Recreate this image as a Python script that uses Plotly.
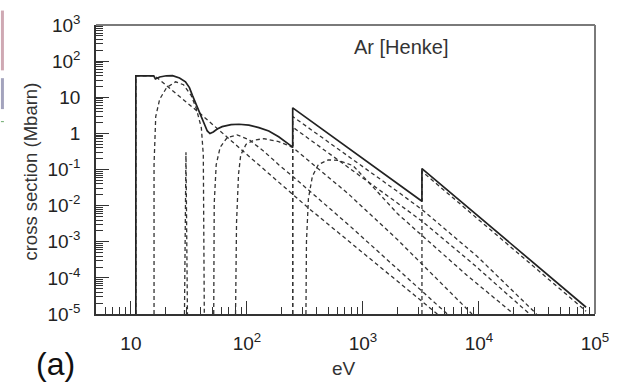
import plotly.graph_objects as go

# ---------------- data (energy in eV, cross section in Mbarn) ----------------
total_E = [11.03, 11.03, 15.73, 16.26, 17.70, 20.19, 22.86, 26.23, 29.52, 31.93,
           33.88, 36.43, 39.66, 42.91, 45.51, 48.0, 51.22, 55.41, 61.13, 72.98,
           85.43, 104.0, 126.7, 154.2, 187.7, 248.0, 248.0, 3224, 3224, 83780]
total_sigma = [1e-5, 39.3, 39.3, 32.1, 36.3, 39.3, 39.8, 34.1, 26.7, 18.5,
               11.3, 6.63, 3.52, 1.79, 1.166, 0.988, 1.096, 1.318, 1.537, 1.738,
               1.79, 1.686, 1.445, 1.166, 0.807, 0.418, 5.09, 0.0132, 0.1063, 1.54e-5]

shell1_E = [11.03, 11.03, 16.03, 17.70, 26.23, 40.45, 90.65, 338.8, 4375]
shell1_sigma = [1e-5, 39.3, 39.3, 30.2, 10.63, 3.31, 0.3415, 0.00858, 1e-5]

shell2_E = [15.82, 15.82, 16.36, 17.70, 20.31, 24.25, 28.38, 33.02, 36.65, 40.45, 42.06, 42.91]
shell2_sigma = [1e-5, 0.136, 2.93, 8.84, 18.5, 26.7, 22.2, 11.3, 4.79, 1.43, 0.251, 1e-5]

shell3_E = [28.94, 29.81, 30.70]
shell3_sigma = [1e-5, 0.302, 1e-5]

shell4_E = [51.72, 52.24, 54.33, 58.76, 67.47, 82.14, 104.0, 139.8, 187.7, 247.4, 744.5, 1991, 5327]
shell4_sigma = [1e-5, 0.01166, 0.136, 0.4106, 0.7586, 0.912, 0.671, 0.321, 0.136, 0.0651, 0.00302, 1.79e-4, 1e-5]

shell5_E = [79.75, 81.35, 84.60, 88.37, 98.06, 114.8, 139.8, 187.7, 247.4, 744.5, 1991, 8713]
shell5_sigma = [1e-5, 0.00341, 0.0736, 0.251, 0.494, 0.651, 0.713, 0.593, 0.4106, 0.0215, 0.00113, 1e-5]

shell6_E = [248.0, 248.0, 1991, 3256, 9614, 31310]
shell6_sigma = [1e-5, 2.93, 0.0244, 0.00759, 3.98e-4, 1e-5]

shell7_E = [248.0, 248.0, 1991, 3256, 8713, 27290]
shell7_sigma = [1e-5, 1.49, 0.01166, 0.00363, 2.59e-4, 1e-5]

shell8_E = [322.5, 325.8, 338.8, 366.5, 412.5, 502.3, 611.3, 821.4, 1217, 1991, 3256, 7898, 19910]
shell8_sigma = [1e-5, 0.001, 0.0158, 0.0651, 0.136, 0.185, 0.179, 0.128, 0.0331, 0.00593, 0.00145, 1.17e-4, 1e-5]

shell9_E = [3224, 3224, 83780]
shell9_sigma = [1e-5, 0.0885, 1.2e-5]

x_tickvals = [10, 100, 1000, 10000, 100000]
x_ticktext = ["10", "10<sup>2</sup>", "10<sup>3</sup>", "10<sup>4</sup>", "10<sup>5</sup>"]
y_tickvals = [1e3, 1e2, 10, 1, 1e-1, 1e-2, 1e-3, 1e-4, 1e-5]
y_ticktext = ["10<sup>3</sup>", "10<sup>2</sup>", "10", "1", "10<sup>-1</sup>", "10<sup>-2</sup>",
              "10<sup>-3</sup>", "10<sup>-4</sup>", "10<sup>-5</sup>"]

# ---------------- figure ----------------
FONT = "Liberation Sans, Arial, Helvetica, sans-serif"
fig = go.Figure()

dashed = [(shell1_E, shell1_sigma), (shell2_E, shell2_sigma), (shell3_E, shell3_sigma),
          (shell4_E, shell4_sigma), (shell5_E, shell5_sigma), (shell6_E, shell6_sigma),
          (shell7_E, shell7_sigma), (shell8_E, shell8_sigma), (shell9_E, shell9_sigma)]
for ex, sy in dashed:
    fig.add_trace(go.Scatter(x=ex, y=sy, mode="lines",
                             line=dict(color="#333333", width=1.3, dash="4px,3px"),
                             hoverinfo="skip", showlegend=False))

fig.add_trace(go.Scatter(x=total_E, y=total_sigma, mode="lines",
                         line=dict(color="#222222", width=1.7),
                         hoverinfo="skip", showlegend=False))

minor_x = [m * 10 ** p for p in range(0, 5) for m in range(2, 10)]
minor_y = [m * 10.0 ** p for p in range(-5, 3) for m in range(2, 10)]

fig.update_xaxes(type="log", range=[0.69897, 5.0], tickmode="array",
                 tickvals=x_tickvals, ticktext=x_ticktext,
                 ticks="inside", ticklen=13, tickwidth=1.2, tickcolor="#333",
                 showline=True, linecolor="#333", linewidth=1.5, mirror=False,
                 showgrid=False, zeroline=False, ticklabelstandoff=11,
                 tickfont=dict(family=FONT, size=19, color="#222"),
                 minor=dict(tickvals=minor_x, ticks="inside", ticklen=7,
                            tickwidth=1, tickcolor="#333", showgrid=False))
fig.update_yaxes(type="log", range=[-5, 3], tickmode="array",
                 tickvals=y_tickvals, ticktext=y_ticktext,
                 ticks="inside", ticklen=13, tickwidth=1.2, tickcolor="#333",
                 showline=True, linecolor="#333", linewidth=1.5, mirror=False,
                 showgrid=False, zeroline=False, ticklabelstandoff=10,
                 tickfont=dict(family=FONT, size=19, color="#222"),
                 minor=dict(tickvals=minor_y, ticks="inside", ticklen=7,
                            tickwidth=1, tickcolor="#333", showgrid=False))

# top and right frame lines (gray)
fig.add_shape(type="line", xref="paper", yref="paper", x0=0, x1=1, y0=1, y1=1,
              line=dict(color="#7a7a7a", width=2))
fig.add_shape(type="line", xref="paper", yref="paper", x0=1, x1=1, y0=0, y1=1,
              line=dict(color="#7a7a7a", width=2))

# small artifacts at the left border of the picture
fig.add_shape(type="rect", xref="paper", yref="paper", x0=-0.1905, x1=-0.1845,
              y0=0.843, y1=1.05, line=dict(width=0), fillcolor="#cfa9b3", layer="below")
fig.add_shape(type="rect", xref="paper", yref="paper", x0=-0.1905, x1=-0.1845,
              y0=0.709, y1=0.816, line=dict(width=0), fillcolor="#a3a3bd", layer="below")
fig.add_shape(type="line", xref="paper", yref="paper", x0=-0.1905, x1=-0.1845,
              y0=0.6656, y1=0.6656, line=dict(width=1, color="#6aa86a"), layer="below")

fig.add_annotation(text="cross section (Mbarn)", xref="paper", yref="paper",
                   x=-0.131, y=0.4916, textangle=-90, showarrow=False,
                   xanchor="center", yanchor="middle",
                   font=dict(family=FONT, size=18.5, color="#333"))
fig.add_annotation(text="eV", xref="paper", yref="paper", x=0.496, y=-0.187,
                   showarrow=False, xanchor="center", yanchor="middle",
                   font=dict(family=FONT, size=19, color="#333"))
fig.add_annotation(text="Ar [Henke]", xref="paper", yref="paper", x=0.611, y=0.923,
                   showarrow=False, xanchor="center", yanchor="middle",
                   font=dict(family=FONT, size=20, color="#333"))
fig.add_annotation(text="(a)", xref="paper", yref="paper", x=-0.0813, y=-0.174,
                   showarrow=False, xanchor="center", yanchor="middle",
                   font=dict(family=FONT, size=32, color="#111"))

fig.update_layout(width=621, height=382, margin=dict(l=96, r=21, t=15, b=68),
                  paper_bgcolor="white", plot_bgcolor="white", showlegend=False)

fig.write_html("out.html")
